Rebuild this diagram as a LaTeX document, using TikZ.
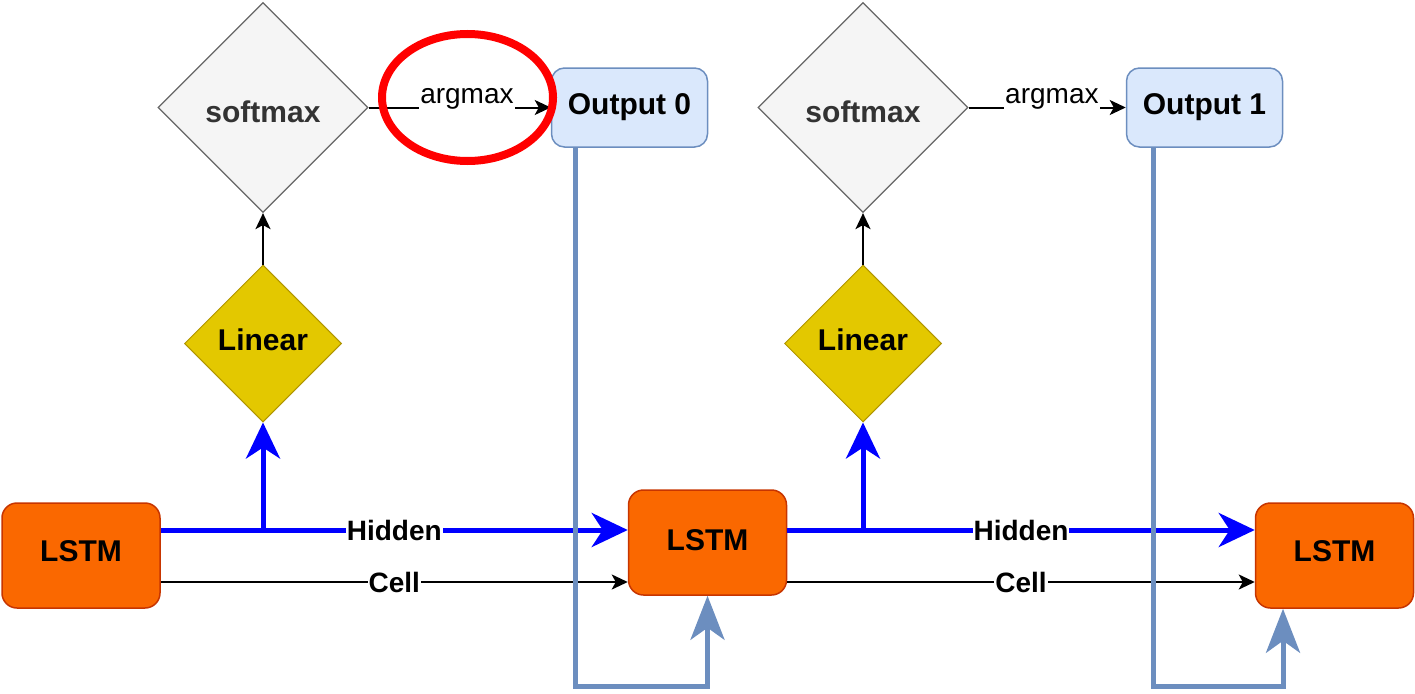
\documentclass[tikz,border=0pt]{standalone}
\usepackage{fontspec}
\setmainfont{Liberation Sans}
\usetikzlibrary{shapes.geometric,arrows.meta}

\definecolor{lstmfill}{HTML}{FA6800}
\definecolor{lstmline}{HTML}{C73500}
\definecolor{linfill}{HTML}{E3C800}
\definecolor{linline}{HTML}{B09500}
\definecolor{softfill}{HTML}{F5F5F5}
\definecolor{softline}{HTML}{666666}
\definecolor{softtext}{HTML}{333333}
\definecolor{outfill}{HTML}{DAE8FC}
\definecolor{outline}{HTML}{6C8EBF}
\definecolor{hidblue}{HTML}{0000FF}

% text set on a baseline lowered by #1 from the node centre
\newcommand{\lowtext}[2]{\raisebox{-#1}[0pt][0pt]{#2}}

\tikzset{
  nodefont/.style={font=\fontsize{30}{34}\selectfont\bfseries},
  lstmbox/.style={nodefont, draw=lstmline, fill=lstmfill, line width=1.5pt,
    rounded corners=15pt, minimum width=158pt, minimum height=105pt, inner sep=0pt},
  outbox/.style={nodefont, draw=outline, fill=outfill, line width=1.5pt,
    rounded corners=13pt, minimum width=156pt, minimum height=79pt, inner sep=0pt},
  lindiamond/.style={nodefont, diamond, aspect=1, draw=linline, fill=linfill,
    line width=1pt, minimum width=157pt, minimum height=157pt, inner sep=0pt},
  softdiamond/.style={nodefont, text=softtext, diamond, aspect=1, draw=softline,
    fill=softfill, line width=1.2pt, minimum width=210pt, minimum height=210pt, inner sep=0pt},
  edgelabel/.style={font=\fontsize{28}{32}\selectfont\bfseries, fill=white, inner sep=1pt},
  arglabel/.style={font=\fontsize{28}{32}\selectfont, fill=white, inner sep=1pt},
  hidden/.style={draw=hidblue, line width=5pt,
    -{Stealth[length=36pt, width=34pt, inset=11pt]}},
  thin/.style={draw=black, line width=2pt,
    -{Stealth[length=16pt, width=15pt, inset=4pt]}},
  feedback/.style={draw=outline, line width=5pt,
    -{Stealth[length=44pt, width=34pt, inset=12pt]}},
  ring/.style={draw=red, line width=8pt},
}

\begin{document}
\begin{tikzpicture}[x=1pt, y=-1pt]
  \useasboundingbox (0,0) rectangle (1415,693);

  % LSTM cells
  \node[lstmbox] (l1) at (81,555.5) {\lowtext{6pt}{LSTM}};
  \node[lstmbox] (l2) at (707.5,542.5) {\lowtext{8pt}{LSTM}};
  \node[lstmbox] (l3) at (1334.5,555.5) {\lowtext{6pt}{LSTM}};

  % projection and softmax heads
  \node[lindiamond] (lin1) at (263,343.5) {\lowtext{7pt}{Linear}};
  \node[lindiamond] (lin2) at (863,343.5) {\lowtext{7pt}{Linear}};
  \node[softdiamond] (sm1) at (263,107.5) {\lowtext{15pt}{softmax}};
  \node[softdiamond] (sm2) at (863,107.5) {\lowtext{15pt}{softmax}};

  % outputs
  \node[outbox] (o0) at (629.5,107.5) {\lowtext{7pt}{Output 0}};
  \node[outbox] (o1) at (1204.5,107.5) {\lowtext{7pt}{Output 1}};

  % branch points and feedback corners
  \coordinate (b1) at (263,530);
  \coordinate (b2) at (863,530);
  \coordinate (f0a) at (575,686);
  \coordinate (f1a) at (1153,686);
  \coordinate (f1b) at (1283,686);

  % hidden state
  \draw[hidden] ([yshift=25.5pt]l1.east) -- node[edgelabel, pos=0.5] {Hidden} ([yshift=12.5pt]l2.west);
  \draw[hidden] ([yshift=12.5pt]l2.east) -- node[edgelabel, pos=0.5] {Hidden} ([yshift=25.5pt]l3.west);
  \draw[hidden] (b1) -- (lin1.south);
  \draw[hidden] (b2) -- (lin2.south);

  % cell state
  \draw[thin] ([yshift=-26.5pt]l1.east) -- node[edgelabel, pos=0.5] {Cell} ([yshift=-39.5pt]l2.west);
  \draw[thin] ([yshift=-39.5pt]l2.east) -- node[edgelabel, pos=0.5] {Cell} ([yshift=-26.5pt]l3.west);

  % heads
  \draw[thin] (lin1.north) -- (sm1.south);
  \draw[thin] (lin2.north) -- (sm2.south);
  \draw[thin] (sm1.east) -- node[arglabel, pos=0.54, yshift=9pt] {argmax} (o0.west);
  \draw[thin] (sm2.east) -- node[arglabel, pos=0.53, yshift=9pt] {argmax} (o1.west);

  % outputs fed back as next inputs
  \draw[feedback] (o0.south -| f0a) -- (f0a) -| (l2.south);
  \draw[feedback] (o1.south -| f1a) -- (f1a) -- (f1b) -- (l3.south -| f1b);

  % highlight
  \draw[ring] (467.5,97.5) ellipse [x radius=85.5pt, y radius=63.5pt];
\end{tikzpicture}
\end{document}
